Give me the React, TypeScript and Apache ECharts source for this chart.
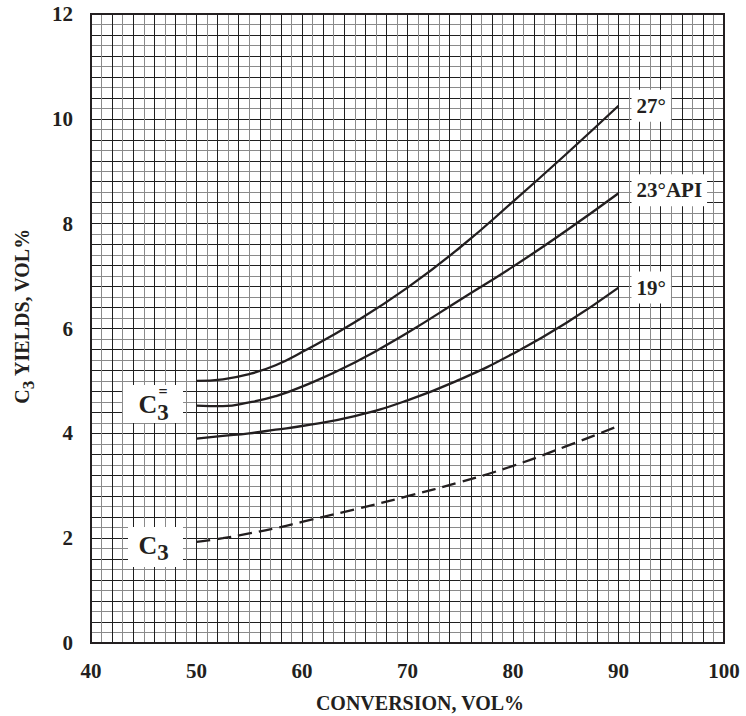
import React, { useEffect, useRef } from "react";
import * as echarts from "echarts";

const conversion = [50, 52.5, 55, 57.5, 60, 65, 70, 75, 80, 85, 90];
const api27 = [5.0, 5.03, 5.13, 5.3, 5.55, 6.12, 6.78, 7.55, 8.42, 9.32, 10.25];
const api23 = [4.53, 4.52, 4.59, 4.71, 4.89, 5.35, 5.92, 6.55, 7.18, 7.86, 8.58];
const api19 = [3.9, 3.95, 4.0, 4.07, 4.14, 4.33, 4.63, 5.03, 5.52, 6.1, 6.78];
const propane = [1.93, 2.0, 2.09, 2.19, 2.31, 2.55, 2.8, 3.07, 3.38, 3.75, 4.14];
const curveLabels = ["27°", "23°API", "19°"];

const FONT = "'Liberation Serif', 'DejaVu Serif', serif";
const INK = "#231f20";

const pairs = (ys: number[]) => conversion.map((x, i) => [x, ys[i]]);

export default function App() {
  const ref = useRef<HTMLDivElement>(null);
  useEffect(() => {
    if (!ref.current) return;
    const chart = echarts.init(ref.current, null, { renderer: "svg" });
    const solid = (name: string, ys: number[], label: string, offY: number) => ({
      type: "line",
      name,
      data: pairs(ys),
      smooth: 0.5,
      symbol: "none",
      lineStyle: { color: INK, width: 2.3 },
      endLabel: {
        show: true,
        formatter: () => label,
        distance: 13,
        offset: [0, offY],
        backgroundColor: "#ffffff",
        padding: [6, 5, 5, 5],
        color: INK,
        fontFamily: FONT,
        fontWeight: "bold",
        fontSize: 21,
      },
      z: 5,
    });
    const textBase = { fontFamily: FONT, fontWeight: "bold", fill: INK };
    chart.setOption({
      animation: false,
      backgroundColor: "#ffffff",
      grid: {
        left: 91,
        top: 14,
        width: 633,
        height: 629,
        show: true,
        borderColor: INK,
        borderWidth: 2,
        backgroundColor: "transparent",
        z: 3,
      },
      xAxis: {
        type: "value",
        min: 40,
        max: 100,
        interval: 2,
        axisLine: { show: false },
        axisTick: { show: false },
        minorTick: { show: false, splitNumber: 2 },
        splitLine: { show: true, lineStyle: { color: "#1f1f1f", width: 1 } },
        minorSplitLine: { show: true, lineStyle: { color: "#8a8a8a", width: 1 } },
        axisLabel: {
          margin: 17,
          fontSize: 21,
          fontFamily: FONT,
          fontWeight: "bold",
          color: INK,
          formatter: (v: number) => (Math.round(v) % 10 === 0 ? String(Math.round(v)) : ""),
        },
      },
      yAxis: {
        type: "value",
        min: 0,
        max: 12,
        interval: 0.4,
        axisLine: { show: false },
        axisTick: { show: false },
        minorTick: { show: false, splitNumber: 2 },
        splitLine: { show: true, lineStyle: { color: "#1f1f1f", width: 1 } },
        minorSplitLine: { show: true, lineStyle: { color: "#8a8a8a", width: 1 } },
        axisLabel: {
          margin: 18,
          fontSize: 21,
          fontFamily: FONT,
          fontWeight: "bold",
          color: INK,
          formatter: (v: number) => {
            const r = Math.round(v);
            return Math.abs(v - r) < 1e-6 && r % 2 === 0 ? String(r) : "";
          },
        },
      },
      series: [
        solid("27° API", api27, curveLabels[0], 0),
        solid("23° API", api23, curveLabels[1], -3),
        solid("19° API", api19, curveLabels[2], 0),
        {
          type: "line",
          name: "C3",
          data: pairs(propane),
          smooth: 0.5,
          symbol: "none",
          lineStyle: { color: INK, width: 2.3, type: [14, 7] },
          z: 5,
        },
      ],
      graphic: [
        {
          type: "text",
          x: 420,
          y: 703,
          z: 100,
          style: { ...textBase, text: "CONVERSION, VOL%", fontSize: 20, align: "center", verticalAlign: "middle" },
        },
        {
          type: "text",
          x: 22,
          y: 316,
          rotation: Math.PI / 2,
          z: 100,
          style: {
            text: "{c|C}{s|3}{c| YIELDS, VOL%}",
            align: "center",
            verticalAlign: "middle",
            fill: INK,
            rich: {
              c: { fontSize: 20, fontFamily: FONT, fontWeight: "bold", color: INK, lineHeight: 30, verticalAlign: "middle" },
              s: { fontSize: 17, fontFamily: FONT, fontWeight: "bold", color: INK, lineHeight: 17, verticalAlign: "bottom" },
            },
          },
        },
        { type: "rect", z: 100, shape: { x: 123, y: 385, width: 60, height: 38 }, style: { fill: "#ffffff" } },
        { type: "text", z: 101, x: 148, y: 404, style: { ...textBase, text: "C", fontSize: 26, align: "center", verticalAlign: "middle" } },
        { type: "text", z: 101, x: 163, y: 412, style: { ...textBase, text: "3", fontSize: 23, align: "center", verticalAlign: "middle" } },
        { type: "text", z: 101, x: 163, y: 391.5, style: { ...textBase, text: "=", fontSize: 16, align: "center", verticalAlign: "middle" } },
        { type: "rect", z: 100, shape: { x: 128, y: 527, width: 55, height: 40 }, style: { fill: "#ffffff" } },
        { type: "text", z: 101, x: 148, y: 545, style: { ...textBase, text: "C", fontSize: 26, align: "center", verticalAlign: "middle" } },
        { type: "text", z: 101, x: 163, y: 552, style: { ...textBase, text: "3", fontSize: 23, align: "center", verticalAlign: "middle" } },
      ],
    });
    return () => chart.dispose();
  }, []);
  return (
    <div
      ref={ref}
      style={{ position: "absolute", left: 0, top: 0, width: 746, height: 716, background: "#fff" }}
    />
  );
}
